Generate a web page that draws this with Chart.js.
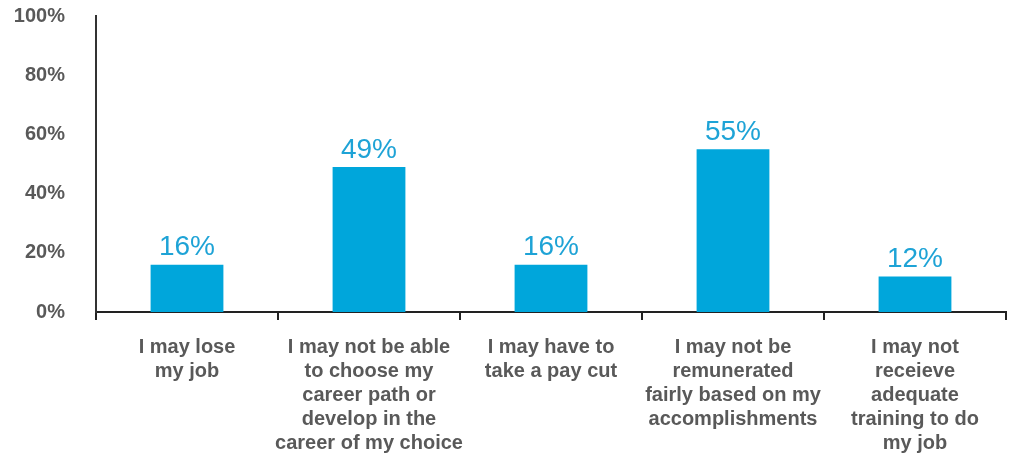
<!DOCTYPE html>
<html>
<head>
<meta charset="utf-8">
<script src="https://cdn.jsdelivr.net/npm/chart.js@4/dist/chart.umd.min.js"></script>
<style>
  html, body { margin: 0; padding: 0; background: #fff; }
  #wrap { width: 1013px; height: 457px; }
</style>
</head>
<body>
<div id="wrap"><canvas id="worryChart"></canvas></div>
<script>
const categories = [
    ['I may lose', 'my job'],
    ['I may not be able', 'to choose my', 'career path or', 'develop in the', 'career of my choice'],
    ['I may have to', 'take a pay cut'],
    ['I may not be', 'remunerated', 'fairly based on my', 'accomplishments'],
    ['I may not', 'receieve', 'adequate', 'training to do', 'my job']
];
const shares = [16, 49, 16, 55, 12];
const yTicks = [0, 20, 40, 60, 80, 100];

const FONT = "'Liberation Sans', Arial, Helvetica, sans-serif";
const BLUE = '#00a6db';
const GREY = '#595959';

// value labels drawn above each bar
const barLabels = {
    id: 'barLabels',
    afterDatasetsDraw(chart) {
        const c = chart.ctx;
        const meta = chart.getDatasetMeta(0);
        c.save();
        c.font = '28px ' + FONT;
        c.fillStyle = '#1ea3d6';
        c.textAlign = 'center';
        c.textBaseline = 'bottom';
        meta.data.forEach((bar, i) => {
            c.fillText(shares[i] + '%', bar.x, bar.y - 3);
        });
        c.restore();
    }
};

new Chart(document.getElementById('worryChart'), {
    type: 'bar',
    data: {
        labels: categories,
        datasets: [{
            data: shares,
            backgroundColor: BLUE,
            barPercentage: 0.8,
            categoryPercentage: 0.5
        }]
    },
    options: {
        responsive: true,
        maintainAspectRatio: false,
        animation: false,
        layout: { padding: { top: 16, right: 7, bottom: 0, left: 0 } },
        plugins: {
            legend: { display: false },
            tooltip: { enabled: false }
        },
        scales: {
            x: {
                grid: {
                    display: true,
                    drawOnChartArea: false,
                    drawTicks: true,
                    tickLength: 8,
                    color: '#222',
                    lineWidth: 2
                },
                border: { display: true, color: '#222', width: 2 },
                ticks: {
                    color: GREY,
                    font: { family: FONT, size: 20, weight: 'bold', lineHeight: 1.2 },
                    padding: 15,
                    maxRotation: 0,
                    autoSkip: false
                },
                afterFit(scale) {
                    scale.height = 145;
                    scale.paddingLeft = 0;
                    scale.paddingRight = 0;
                }
            },
            y: {
                min: 0,
                max: 100,
                grid: { display: false },
                border: { display: true, color: '#333', width: 2 },
                afterBuildTicks(scale) {
                    scale.ticks = yTicks.map(v => ({ value: v }));
                },
                ticks: {
                    color: GREY,
                    font: { family: FONT, size: 20, weight: 'bold' },
                    padding: 23,
                    callback: v => v + '%'
                },
                afterFit(scale) {
                    scale.width = 96;
                    scale.paddingTop = 0;
                    scale.paddingBottom = 0;
                }
            }
        }
    },
    plugins: [barLabels]
});
</script>
</body>
</html>
